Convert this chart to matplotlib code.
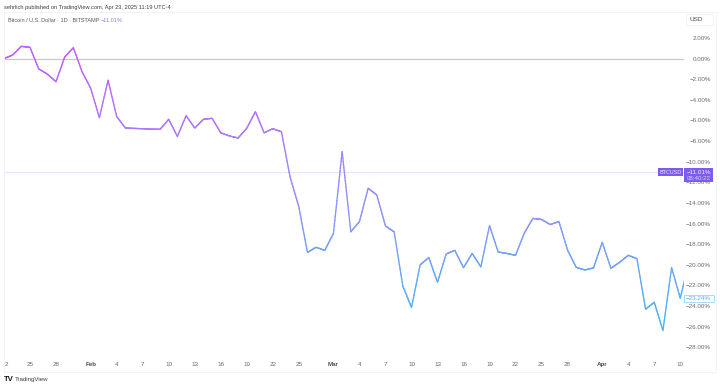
import numpy as np
import matplotlib
matplotlib.use("Agg")
import matplotlib.pyplot as plt
from matplotlib.collections import LineCollection
from matplotlib.colors import LinearSegmentedColormap
from matplotlib.lines import Line2D
from matplotlib.patches import Rectangle

plt.rcParams['font.family'] = ['Liberation Sans', 'DejaVu Sans']

# % change per day, starting Jan 22
pct_change = [0.0, 0.35, 1.19, 1.09, -1.0, -1.5, -2.24, 0.15, 1.05, -1.27,
              -2.88, -5.73, -2.1, -5.63, -6.73, -6.77, -6.8, -6.84, -6.86, -5.89,
              -7.55, -5.54, -6.73, -5.89, -5.79, -7.2, -7.5, -7.7, -6.76, -5.15,
              -7.2, -6.8, -7.1, -11.5, -14.36, -18.8, -18.3, -18.6, -16.95, -9.03,
              -16.8, -15.8, -12.58, -13.23, -16.24, -16.8, -22.06, -24.13, -20.0, -19.3,
              -21.7, -18.95, -18.6, -20.28, -18.9, -20.2, -16.2, -18.76, -18.9, -19.08,
              -16.95, -15.5, -15.6, -16.1, -15.8, -18.57, -20.25, -20.5, -20.3, -17.82,
              -20.34, -19.76, -19.08, -19.4, -24.3, -23.64, -26.36, -20.28, -23.24, -19.7]
days = list(range(len(pct_change)))

x_tick_days = [0.25, 3, 6, 10, 13, 16, 19, 22, 25, 28, 31, 34, 38, 41, 44, 47, 50, 53, 56,
               59, 62, 65, 69, 72, 75, 78]
x_tick_labels = ['2', '25', '28', 'Feb', '4', '7', '10', '13', '16', '19', '22', '25', 'Mar', '4',
                 '7', '10', '13', '16', '19', '22', '25', '28', 'Apr', '4', '7', '10']
bold_ticks = ['Feb', 'Mar', 'Apr']
y_ticks = [2, 0, -2, -4, -6, -8, -10, -12, -14, -16, -18, -20, -22, -24, -26, -28]
y_labels = ['2.00%', '0.00%', '−2.00%', '−4.00%', '−6.00%', '−8.00%', '−10.00%', '−12.00%',
            '−14.00%', '−16.00%', '−18.00%', '−20.00%', '−22.00%', '−24.00%', '−26.00%', '−28.00%']
current_value = -11.01
last_value = -23.24

W, H = 720, 387
fig = plt.figure(figsize=(W / 100, H / 100), dpi=100, facecolor='white')
L, R, T, B = 4, 684, 12, 372
ax = fig.add_axes([L / W, 1 - B / H, (R - L) / W, (B - T) / H])
ax.set_xlim(0, (R - L) / 8.67)
ax.set_ylim((58.6 - B) / 10.31, (58.6 - T) / 10.31)
for s in ax.spines.values():
    s.set_visible(False)

def to_fig(px, py):
    return px / W, 1 - py / H

# frame
frame = '#f1f3f7'
for (x0, y0, x1, y1) in [(4, 11.5, 716, 11.5), (4, 372, 716, 372), (4, 11.5, 4, 372), (716, 11.5, 716, 372)]:
    a, b = to_fig(x0, y0)
    c, d = to_fig(x1, y1)
    fig.add_artist(Line2D([a, c], [b, d], color=frame, lw=0.7))

# reference lines
ax.axhline(0, color='#c9c9cc', lw=0.9, zorder=1)
ax.axhline(current_value, color='#e9e3fd', lw=0.9, zorder=1)

# line with vertical gradient: each stroke is split only to shade its colour
cmap = LinearSegmentedColormap.from_list('g', ['#46b6f8', '#7f9cfb', '#a97dfd', '#c65cff'])
xs, ys = [], []
for i in range(len(days) - 1):
    t = np.linspace(0, 1, 25, endpoint=False)
    xs.extend(days[i] + t * (days[i + 1] - days[i]))
    ys.extend(pct_change[i] + t * (pct_change[i + 1] - pct_change[i]))
xs.append(days[-1]); ys.append(pct_change[-1])
xs, ys = np.array(xs), np.array(ys)
pts = np.column_stack([xs, ys]).reshape(-1, 1, 2)
segs = np.concatenate([pts[:-1], pts[1:]], axis=1)
lc = LineCollection(segs, cmap=cmap, norm=plt.Normalize(-26.5, 1.2), lw=0.95, capstyle='round', zorder=3)
lc.set_array((ys[:-1] + ys[1:]) / 2)
ax.add_collection(lc)

# x ticks
ax.set_xticks(x_tick_days)
ax.set_xticklabels(x_tick_labels, fontsize=4.5, color='#666a72')
for lbl in ax.get_xticklabels():
    if lbl.get_text() in bold_ticks:
        lbl.set_fontweight('bold')
        lbl.set_color('#4a4d55')
ax.tick_params(axis='x', length=0, pad=-7.0)
for lbl in ax.get_xticklabels():
    lbl.set_zorder(5)

# y ticks
ax.yaxis.tick_right()
ax.set_yticks(y_ticks)
ax.set_yticklabels(y_labels, fontsize=4.5, color='#666a72', ha='right')
ax.tick_params(axis='y', length=0, pad=19.4)

def ftext(px, py, s, **kw):
    a, b = to_fig(px, py)
    return fig.text(a, b, s, va='center', **kw)

def box(x0, y0, x1, y1, fc, ec='none', lw=0.6, z=6):
    fig.add_artist(Rectangle(to_fig(x0, y1), (x1 - x0) / W, (y1 - y0) / H, transform=fig.transFigure,
                             fc=fc, ec=ec, lw=lw, zorder=z))

# header text
ftext(4, 7, 'sehrlich published on TradingView.com, Apr 23, 2025 11:19 UTC-4', fontsize=4.1, color='#3a3d44')
ftext(8, 20, 'Bitcoin / U.S. Dollar · 1D · BITSTAMP', fontsize=4.0, color='#555860')
ftext(101, 20, '−11.01%', fontsize=4.0, color='#9a72f8')

# USD box
box(686, 14, 713, 25, 'white', '#f0f1f5')
ftext(690, 19.5, 'USD', fontsize=4.6, color='#444750', zorder=7)

# badges
purple = '#7c5cf0'
box(658, 168, 683, 176, purple)
ftext(670.5, 172, 'BTCUSD', fontsize=4.0, color='#e8e4ff', ha='center', zorder=7)
box(684, 168, 713, 182, purple)
ftext(711, 172.5, '−11.01%', fontsize=4.5, color='#f0ecff', ha='right', zorder=7)
ftext(711, 178.3, '08:40:22', fontsize=4.4, color='#d8d0ff', ha='right', zorder=7)
box(684, 295, 713.5, 302, 'white', '#9ad6fd')
ftext(711, 298.5, '−23.24%', fontsize=4.5, color='#4fb2f6', ha='right', zorder=7)

# footer
ftext(4, 379.5, 'TV', fontsize=5.6, color='#131722', fontweight='bold')
ftext(15, 379.5, 'TradingView', fontsize=4.4, color='#3a3d44')

fig.savefig('out.png', dpi=100, facecolor='white')
